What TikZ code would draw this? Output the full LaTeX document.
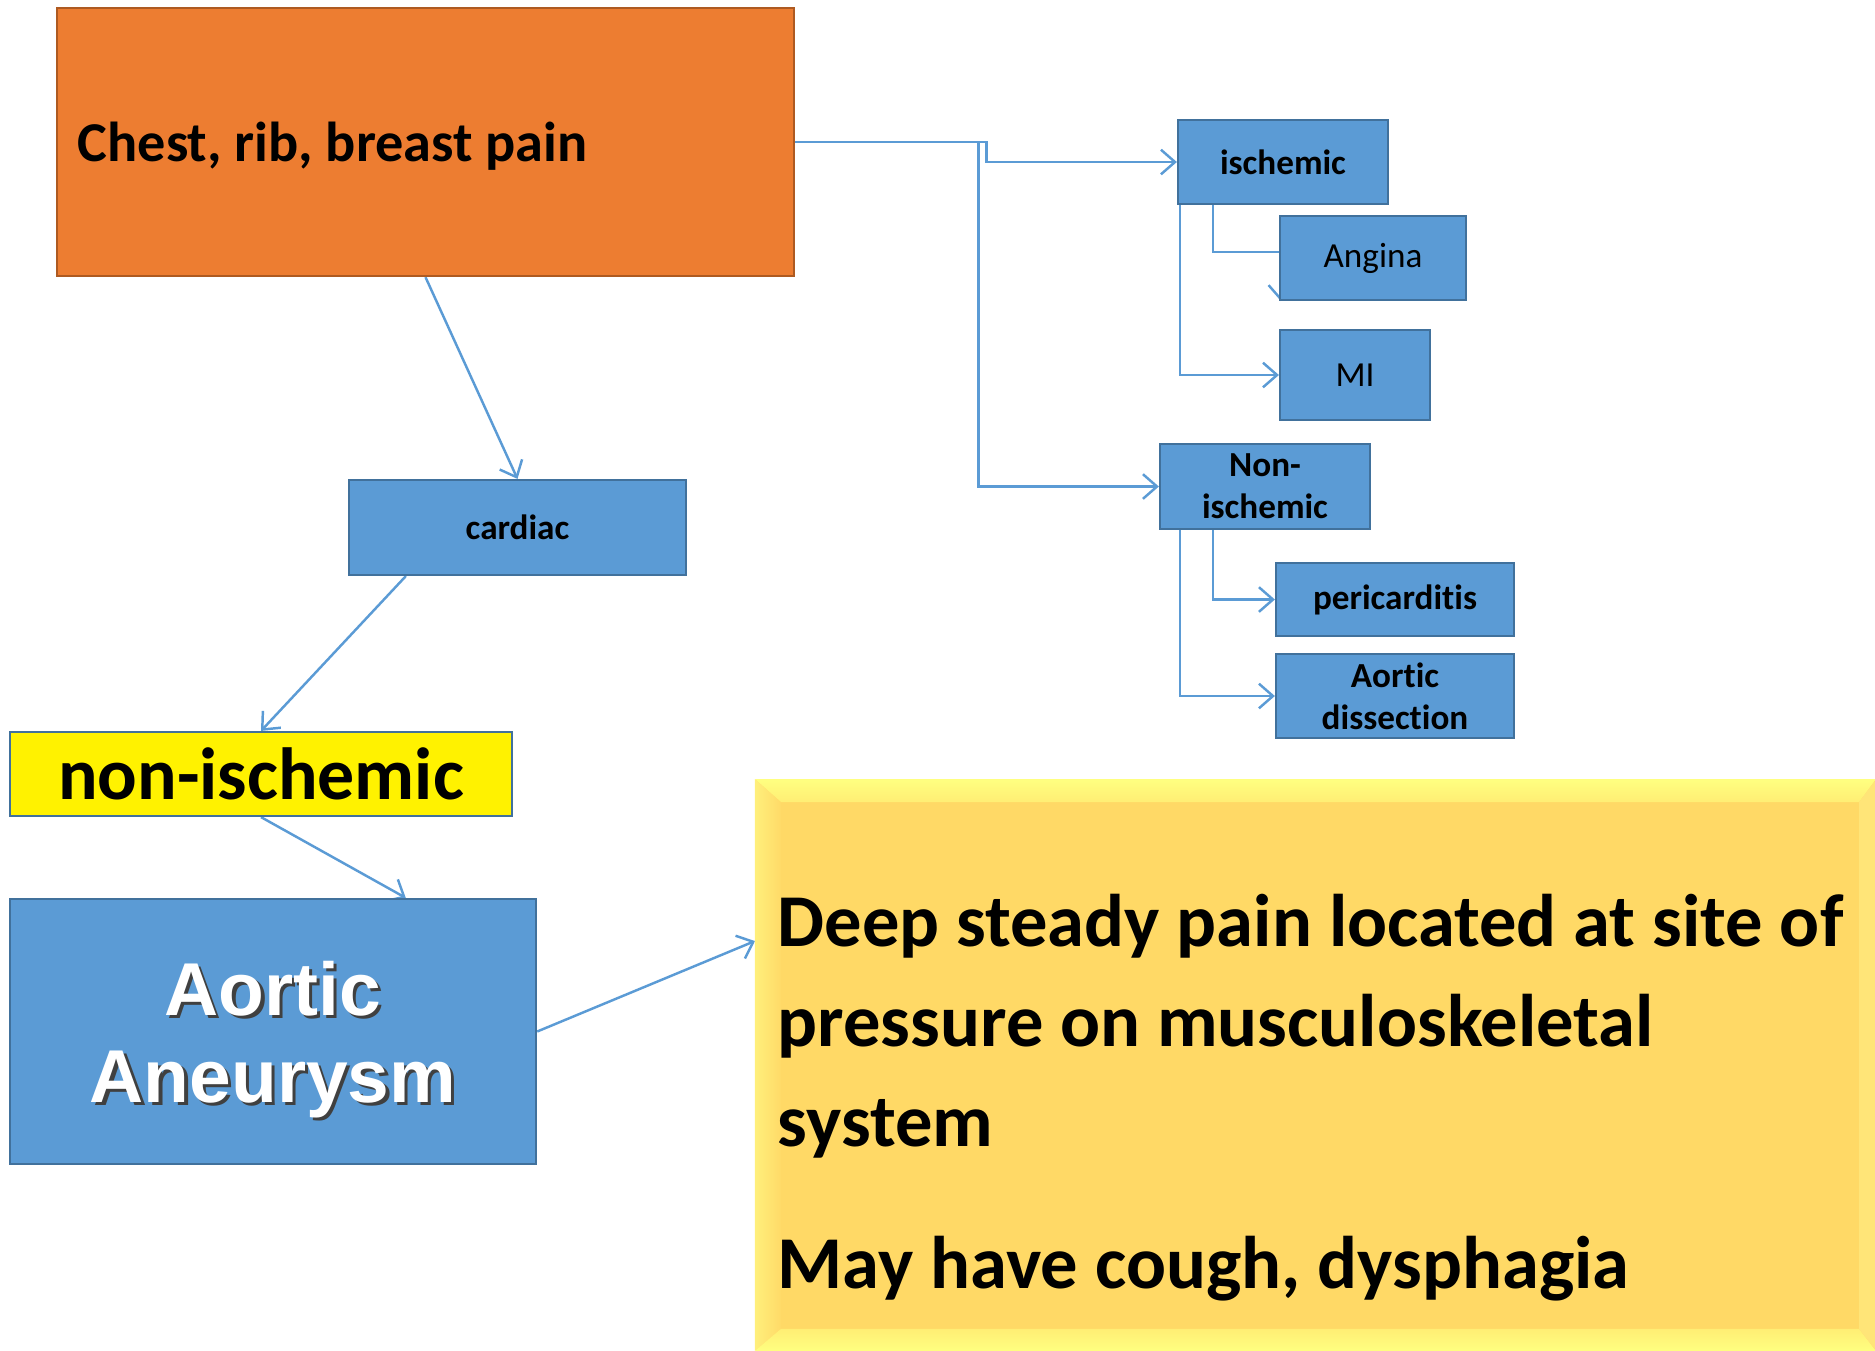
\documentclass[tikz,border=0pt]{standalone}
\usepackage{fontspec}
\setmainfont{Carlito}[Ligatures=NoCommon]
\newfontfamily\arialfont{Liberation Sans}
\usepackage{xcolor}
\definecolor{tileBlue}{HTML}{5B9BD5}
\definecolor{tileEdge}{HTML}{41719C}
\definecolor{chestOrange}{HTML}{ED7D31}
\definecolor{chestEdge}{HTML}{AE5A21}
\definecolor{noteGold}{HTML}{FFD966}
\definecolor{noteLight}{HTML}{FFFF80}
\definecolor{noteSide}{HTML}{FFE578}
\usetikzlibrary{positioning,arrows.meta,backgrounds}
\newcommand{\shadowed}[1]{\rlap{\hspace{0.9pt}\raisebox{-0.9pt}{\color{black!75}#1}}#1}
\frenchspacing

\begin{document}
\begin{tikzpicture}[x=0.01cm, y=-0.01cm,
        tile/.style={draw=tileEdge, fill=tileBlue, line width=0.6pt, inner sep=0pt,
                     font=\fontsize{10}{12}\selectfont\bfseries, align=center},
        plain/.style={tile, font=\fontsize{10}{12}\selectfont},
        chestbox/.style={draw=chestEdge, fill=chestOrange, line width=0.6pt,
                     text width=6.95cm, inner xsep=0.21cm, inner ysep=0pt,
                     minimum height=2.68cm, align=flush left, text depth=0pt,
                     font=\fontsize{16}{19}\selectfont\bfseries},
        link/.style={-{Straight Barb[length=4pt,width=7pt]}, line width=0.7pt, draw=tileBlue},
      ]
        \useasboundingbox (0,0) rectangle (1875,1350);
        % Sorgente
        \node[chestbox] (chest) at (425.5,142) {Chest, rib, breast pain};
        % Ramo ischemico / non ischemico
        \node[tile, minimum width=2.10cm, minimum height=0.84cm] (ischemic) at (1283,162) {ischemic};
        \node[plain, minimum width=1.86cm, minimum height=0.84cm] (angina) at (1373,258) {Angina};
        \node[plain, minimum width=1.50cm, minimum height=0.90cm] (mi) at (1355,375) {MI};
        \node[tile, minimum width=2.10cm, minimum height=0.85cm] (nonisch) at (1265,486.5) {Non-\\ischemic};
        \node[tile, minimum width=2.38cm, minimum height=0.73cm] (peri) at (1395,599.5) {pericarditis};
        \node[tile, minimum width=2.38cm, minimum height=0.84cm] (dissect) at (1395,696) {Aortic\\dissection};
        % Catena a sinistra
        \node[tile, minimum width=3.37cm, minimum height=0.95cm] (cardiac) at (517.5,527.5) {cardiac};
        \node[tile, fill=yellow, minimum width=5.02cm, minimum height=0.84cm,
              font=\fontsize{21}{25}\selectfont\bfseries] (nonischY) at (261,774) {non-ischemic};
        \node[tile, minimum width=5.26cm, minimum height=2.65cm, text=white, text depth=0pt,
              font=\arialfont\fontsize{21.3}{24.8}\selectfont\bfseries] (aneurysm) at (273,1031.5)
          {\shadowed{Aortic}\\\shadowed{Aneurysm}};
        % Riquadro con smusso
        \node[fill=noteGold, inner sep=0pt, minimum width=11.19cm, minimum height=5.70cm] (symptoms) at (1315.5,1065) {};
        \shade[top color=noteLight, bottom color=noteLight!55!noteGold]
          (symptoms.north west) -- (symptoms.north east) -- ([shift={(-17,23)}]symptoms.north east)
          -- ([shift={(26,23)}]symptoms.north west) -- cycle;
        \shade[left color=noteSide!60!noteLight, right color=noteGold!90!noteSide]
          (symptoms.north west) -- ([shift={(26,23)}]symptoms.north west)
          -- ([shift={(26,-22)}]symptoms.south west) -- (symptoms.south west) -- cycle;
        \shade[bottom color=noteLight, top color=noteLight!55!noteGold]
          (symptoms.south west) -- ([shift={(26,-22)}]symptoms.south west)
          -- ([shift={(-17,-22)}]symptoms.south east) -- (symptoms.south east) -- cycle;
        \fill[noteSide]
          (symptoms.north east) -- ([shift={(-17,23)}]symptoms.north east)
          -- ([shift={(-17,-22)}]symptoms.south east) -- (symptoms.south east) -- cycle;
        \node[anchor=north west, align=left, inner sep=0pt,
              font=\fontsize{21.2}{28.5}\selectfont\bfseries] (symptext) at (777,893)
          {Deep steady pain located at site of\\pressure on musculoskeletal\\system\\[11.8pt]May have cough, dysphagia};
        % Frecce
        \begin{scope}[on background layer]
          \draw[link] (chest.east) -- ++(191,0) |- (ischemic.west);
          \draw[link] (chest.east) -- ++(183,0) |- (nonisch.west);
          \draw[link] ([shift={(36,0)}]ischemic.south west) |- ([shift={(2,-6)}]angina.west)
            -- ([shift={(2,0)}]angina.south west);
          \draw[link] ([shift={(3,0)}]ischemic.south west) |- (mi.west);
          \draw[link] ([shift={(54,0)}]nonisch.south west) |- (peri.west);
          \draw[link] ([shift={(21,0)}]nonisch.south west) |- (dissect.west);
          \draw[link] (chest.south) -- (cardiac.north);
          \draw[link] ([shift={(58,0)}]cardiac.south west) -- (nonischY.north);
          \draw[link] (nonischY.south) -- ([shift={(397,0)}]aneurysm.north west);
          \draw[link] (aneurysm.east) -- ([shift={(0,-124)}]symptoms.west);
        \end{scope}
      \end{tikzpicture}
\end{document}
